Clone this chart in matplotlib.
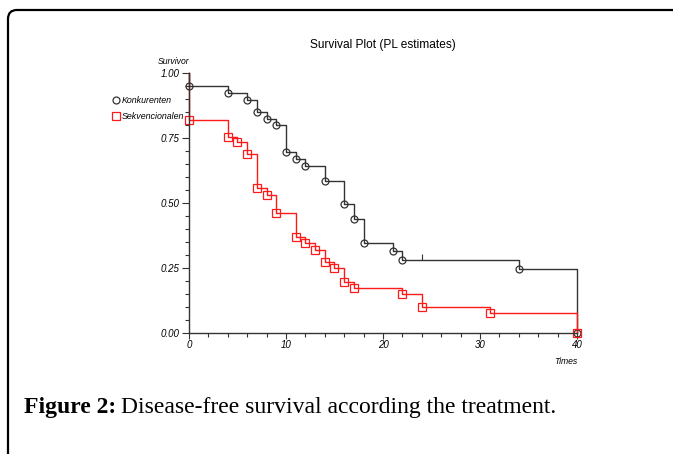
import matplotlib
matplotlib.use("Agg")
import matplotlib.pyplot as plt
import matplotlib.patches as mpatches
from matplotlib.lines import Line2D
from matplotlib.transforms import IdentityTransform
from matplotlib.ticker import MultipleLocator, FormatStrFormatter

plt.rcParams['font.family'] = ['Liberation Sans', 'DejaVu Sans']

# Kaplan-Meier estimates
konk_t = [0, 4, 6, 7, 8, 9, 10, 11, 12, 14, 16, 17, 18, 21, 22, 34, 40]
konk_s = [0.95, 0.923, 0.896, 0.849, 0.823, 0.799, 0.695, 0.669, 0.642,
          0.586, 0.497, 0.439, 0.346, 0.315, 0.282, 0.247, 0.0]
konk_censor_t = [24]
konk_censor_s = [0.282]

sekv_t = [0, 4, 5, 6, 7, 8, 9, 11, 12, 13, 14, 15, 16, 17, 22, 24, 31, 40]
sekv_s = [0.819, 0.754, 0.733, 0.688, 0.557, 0.532, 0.463, 0.369, 0.346,
          0.320, 0.273, 0.249, 0.197, 0.173, 0.149, 0.099, 0.076, 0.0]

labels = ["Konkurenten", "Sekvencionalen"]
black = "#333333"
red = "#ff1a1a"

fig = plt.figure(figsize=(6.73, 4.54), dpi=100)
ax = fig.add_axes([0.2808, 0.2665, 0.5765, 0.5727])

# step curves start at S=1 at time 0
ax.plot([0] + konk_t, [1.0] + konk_s, drawstyle="steps-post", color=black, lw=1)
ax.plot([0] + sekv_t, [1.0] + sekv_s, drawstyle="steps-post", color=red, lw=1)
ax.plot(konk_t, konk_s, "o", ms=5, mfc="none", mec=black, mew=0.9)
ax.plot(sekv_t, sekv_s, "s", ms=5.5, mfc="none", mec=red, mew=0.9)
ax.plot(konk_censor_t, konk_censor_s, marker=2, ms=4, color=black, ls="none", mew=0.8)

ax.set_xlim(0, 40)
ax.set_ylim(0, 1.0)
for s in ["top", "right"]:
    ax.spines[s].set_visible(False)
for s in ["left", "bottom"]:
    ax.spines[s].set_color(black)
    ax.spines[s].set_linewidth(1)
ax.xaxis.set_major_locator(MultipleLocator(10))
ax.xaxis.set_minor_locator(MultipleLocator(2))
ax.yaxis.set_major_locator(MultipleLocator(0.25))
ax.yaxis.set_minor_locator(MultipleLocator(0.05))
ax.yaxis.set_major_formatter(FormatStrFormatter("%.2f"))
ax.tick_params(which="major", length=5, width=0.8, color=black, labelsize=7, pad=1.5)
ax.tick_params(axis="x", which="major", length=4, pad=1)
ax.tick_params(which="minor", length=3, width=0.8, color=black)
for lbl in ax.get_xticklabels() + ax.get_yticklabels():
    lbl.set_fontstyle("italic")
ax.patch.set_visible(False)
for ln in ax.lines:
    ln.set_clip_on(False)

fig.text(174 / 673, 1 - 62 / 454, "Survivor", fontsize=6.2, style="italic", ha="center", va="center")
fig.text(566 / 673, 1 - 361 / 454, "Times", fontsize=6.2, style="italic", ha="center", va="center")
fig.text(383 / 673, 1 - 45 / 454, "Survival Plot (PL estimates)", fontsize=8.6, ha="center", va="center")

handles = [Line2D([], [], marker="o", ls="none", ms=5, mfc="none", mec=black, mew=0.9),
           Line2D([], [], marker="s", ls="none", ms=5.5, mfc="none", mec=red, mew=0.9)]
leg = fig.legend(handles, labels, loc="upper left", bbox_to_anchor=(0.163, 0.796),
                 frameon=False, fontsize=6.4, handlelength=0.6, handletextpad=0.35,
                 labelspacing=0.8, borderaxespad=0)
for t in leg.get_texts():
    t.set_fontstyle("italic")

# page frame with rounded top-left corner (pixel coordinates)
frame = mpatches.FancyBboxPatch((8, -30), 720, 454 - 10 + 30,
                                boxstyle="round,pad=0,rounding_size=9",
                                transform=IdentityTransform(), fill=False,
                                ec="black", lw=1.6)
fig.add_artist(frame)

# caption
cap1 = fig.text(24 / 673, 1 - 407 / 454, "Figure 2:", fontsize=17, fontweight="bold",
                family="Liberation Serif", ha="left", va="center")
fig.canvas.draw()
bb = cap1.get_window_extent()
fig.text((bb.x1 + 5) / 673, 1 - 407 / 454, "Disease-free survival according the treatment.",
         fontsize=17, family="Liberation Serif", ha="left", va="center")

fig.savefig("out.png", dpi=100)
